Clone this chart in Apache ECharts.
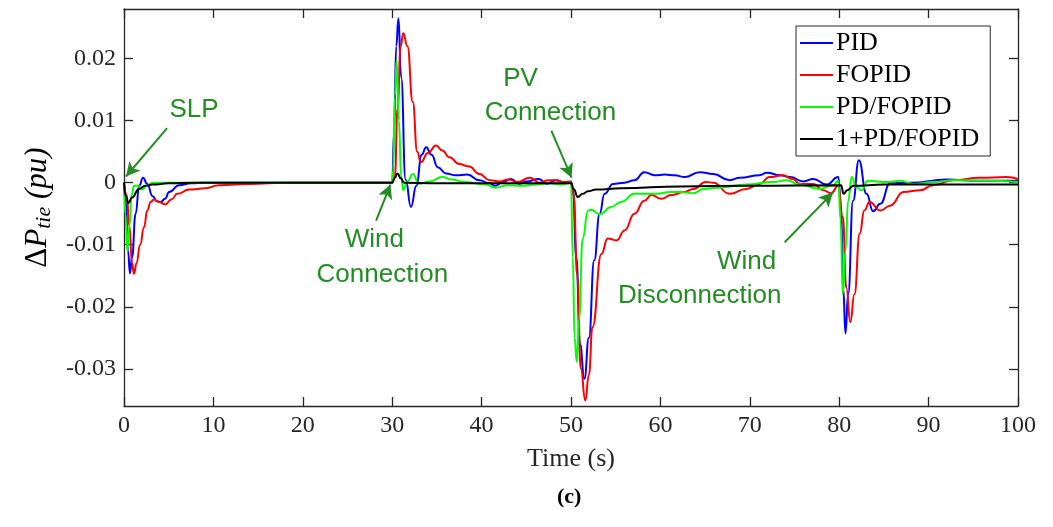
<!DOCTYPE html>
<html>
<head>
<meta charset="utf-8">
<script src="https://cdn.jsdelivr.net/npm/echarts@6/dist/echarts.min.js"></script>
<style>html,body{margin:0;padding:0;background:#fff}#chart{width:1053px;height:527px}</style>
</head>
<body>
<div id="chart"></div>
<script>
// series names (legend order)
var names = ['PID', 'FOPID', 'PD/FOPID', '1+PD/FOPID'];
var colors = ['#0000ff', '#ff0000', '#00ff00', '#000000'];

// PID
var pidT = [0,0.2,0.45,0.67,0.9,1.3,1.7,2.13,2.6,3.2,3.7,4.1,4.6,5.04,6.16,7.5,9,30,30.2,30.45,30.7,31.0,31.5,32.1,32.7,33.3,33.8,34.4,35.1,36.0,37.1,38.4,39.75,40.9,41.5,42.4,43.3,44.2,45.0,46.4,47.3,48.3,49.2,50.0,50.2,50.6,51.0,51.5,52.0,52.6,53.2,53.75,54.7,56,57.1,58.2,59.35,60.5,61.6,62.7,64.4,65.9,67.75,68.9,71.1,71.9,73.4,74.5,76,77.1,78.6,79.9,80.2,80.45,80.7,81.0,81.55,82.2,83.05,83.8,84.6,85.7,88,92,95.7,100];
var pidV = [0,-0.003,-0.011,-0.0146,-0.012,-0.005,-0.0005,0.0008,-0.0002,-0.0022,-0.003,-0.0031,-0.0026,-0.0015,-0.0004,-0.0001,0,0,0.008,0.022,0.0265,0.017,0.0005,-0.0039,-0.0005,0.0045,0.0057,0.0045,0.0025,0.0015,0.0012,0.0013,0.0004,-0.0001,-0.0005,0.0001,0.0006,-0.0002,0.0002,0.0006,-0.0002,0.0004,0.0001,0.0002,-0.001,-0.012,-0.026,-0.0316,-0.025,-0.0125,-0.005,-0.0018,-0.0002,0,0.0004,0.0017,0.0012,0.0013,0.0012,0.0009,0.0017,0.0014,0.0004,0.0008,0.0012,0.0016,0.0012,0.0009,0.0002,0.0006,-0.0003,0.0009,-0.004,-0.017,-0.0243,-0.018,-0.0029,0.0036,-0.0018,-0.0046,-0.0034,-0.0001,0,0.0005,0.0003,0.0003];

// FOPID
var fopidT = [0,0.3,0.6,0.9,1.12,1.4,1.8,2.24,2.6,2.99,3.36,3.9,4.6,5.3,5.97,7.28,9.15,10.6,14,18,30,30.3,30.6,30.95,31.24,31.7,32.3,32.8,33.2,34.0,34.9,35.6,36.4,37.5,38.6,39.75,40.9,42.0,43.0,44.0,45.4,46.5,47.5,48.3,49.2,50.0,50.3,50.7,51.1,51.6,52.0,52.4,53.4,54.1,55.1,56,57.1,58.2,59,60.1,61.2,62.7,63.7,65.1,65.9,67.75,69.6,71.1,72.2,73.7,74.8,75.6,77.1,78.2,79.1,79.9,80.4,80.8,81.25,81.7,82.3,82.8,83.4,84.6,85.7,87.2,89.1,90.5,92.8,95.7,98.7,100];
var fopidV = [0,-0.002,-0.007,-0.013,-0.0147,-0.013,-0.01,-0.0072,-0.0045,-0.0031,-0.0027,-0.0031,-0.0035,-0.0027,-0.0018,-0.0011,-0.0009,-0.0004,-0.0002,0,0,0.001,0.012,0.022,0.0241,0.022,0.013,0.005,0.0033,0.0048,0.006,0.0052,0.0041,0.003,0.0026,0.0014,0.0004,0.0002,0.0005,0.0001,0.0008,0,0.0004,0.0004,0.0001,0.0001,-0.002,-0.015,-0.03,-0.0351,-0.031,-0.0233,-0.0115,-0.009,-0.0093,-0.0077,-0.005,-0.0029,-0.002,-0.0026,-0.002,-0.0015,-0.001,0.0001,0,-0.0018,-0.001,-0.0002,0.0009,0.0012,0.0006,-0.0002,-0.0002,-0.0012,-0.0017,-0.0005,-0.0055,-0.017,-0.0225,-0.018,-0.0082,-0.0045,-0.0031,-0.0045,-0.0037,-0.0015,-0.0012,-0.0004,0.0004,0.0008,0.0009,0.0006];

// PD/FOPID
var pdT = [0,0.15,0.37,0.6,0.85,1.12,1.5,2.05,2.6,3.2,30,30.1,30.3,30.5,30.75,31.0,31.24,31.7,32.3,33.0,34.2,35.6,36.7,38,40.5,41.5,43,44.5,46,47.5,49,50.0,50.2,50.4,50.65,50.9,51.3,51.9,52.3,53.2,54.5,55.6,57.1,59.35,61.2,62.2,63.7,64.8,66.5,69.6,72.6,74.1,75.6,77.8,79.3,79.9,80.15,80.4,80.7,81.0,81.4,81.9,82.5,83.2,85.3,86.8,88.3,90.6,92.8,96.5,100];
var pdV = [0,-0.005,-0.011,-0.007,-0.002,-0.0005,-0.0005,-0.0011,-0.0004,0,0,0.002,0.014,0.0197,0.01,0.001,-0.0012,0.0002,0.0014,-0.0002,0.0002,0.0009,0.0005,0.0001,-0.0003,-0.0008,-0.0004,-0.0005,-0.0003,-0.0001,-0.0003,0,-0.012,-0.025,-0.0289,-0.022,-0.009,-0.0045,-0.0044,-0.0051,-0.0039,-0.0031,-0.0018,-0.0018,-0.0015,-0.0015,-0.0017,-0.001,-0.0008,-0.0003,0.0001,0.0004,-0.0003,-0.001,-0.0004,0.0003,-0.006,-0.0179,-0.011,-0.0029,0.0009,-0.0007,-0.0012,0.0003,0.0001,0.0003,-0.0002,0.0001,0.0004,0.0003,0.0001];

// 1+PD/FOPID
var onePdT = [0,0.2,0.48,0.9,1.68,2.4,3.2,5,8,30,30.3,30.6,30.95,31.35,35,50.0,50.3,50.76,51.3,51.9,52.8,55.6,62.3,70,80.2,80.5,80.9,81.6,85,100];
var onePdV = [0,-0.0022,-0.0033,-0.0024,-0.001,-0.0005,-0.0003,-0.0001,0,0,0.0008,0.0015,0.0007,0,-0.0001,-0.0001,-0.001,-0.0023,-0.0018,-0.0014,-0.0011,-0.0009,-0.0006,-0.0005,-0.0004,-0.0018,-0.0012,-0.0005,-0.0003,-0.0003];

// axis ticks
var yTicks = [-0.03, -0.02, -0.01, 0, 0.01, 0.02];

// annotations: text [x, y, label], arrows [x1, y1, x2, y2]
var noteTexts = [[7.84,0.0118,'SLP'],[28.0,-0.0092,'Wind'],[28.9,-0.0148,'Connection'],[44.35,0.0168,'PV'],[47.7,0.0112,'Connection'],[69.65,-0.0127,'Wind'],[64.4,-0.0183,'Disconnection']];
var noteArrows = [[4.82,0.0088,0.22,0.001],[28.2,-0.0061,29.8,-0.0003],[47.8,0.0084,50.06,0.0008],[73.9,-0.0096,79.3,-0.0016]];

function zip(t, v) {
    var out = [];
    for (var i = 0; i < t.length; i++) out.push([t[i], v[i]]);
    return out;
}

var allData = [zip(pidT, pidV), zip(fopidT, fopidV), zip(pdT, pdV), zip(onePdT, onePdV)];
var axisColor = '#262626';
var serif = 'Liberation Serif';
var green = '#238c23';

var series = names.map(function (n, i) {
    return {
        name: n,
        type: 'line',
        data: allData[i],
        symbol: 'none',
        smooth: 0.5,
        smoothMonotone: 'x',
        lineStyle: {color: colors[i], width: 2},
        itemStyle: {color: colors[i]},
        z: 2 + i
    };
});

// annotation series (not in legend)
series.push({
    name: 'notes',
    type: 'line',
    data: [],
    z: 10,
    markLine: {
        silent: true,
        symbol: ['none', 'arrow'],
        symbolSize: [11, 14],
        label: {show: false},
        lineStyle: {color: green, width: 2, type: 'solid'},
        data: noteArrows.map(function (a) {
            return [{coord: [a[0], a[1]]}, {coord: [a[2], a[3]]}];
        })
    },
    markPoint: {
        silent: true,
        symbol: 'rect',
        symbolSize: 1,
        itemStyle: {color: 'rgba(0,0,0,0)'},
        label: {
            show: true, position: 'inside', formatter: '{b}',
            color: green, fontFamily: 'Liberation Sans', fontSize: 26
        },
        data: noteTexts.map(function (t) {
            return {name: t[2], coord: [t[0], t[1]]};
        })
    }
});

var tickStyle = {show: true, inside: true, length: 9, lineStyle: {color: axisColor, width: 1.3}};
var lineStyleAx = {show: true, onZero: false, lineStyle: {color: axisColor, width: 1.3}};

var option = {
    animation: false,
    backgroundColor: '#fff',
    title: {
        text: '(c)', left: 552, top: 481,
        textStyle: {fontFamily: serif, fontWeight: 'bold', fontSize: 22, color: '#000'}
    },
    grid: {left: 124, top: 9, right: 35, bottom: 121},
    legend: {
        data: names,
        orient: 'vertical',
        left: 796, top: 26,
        backgroundColor: '#fff',
        borderColor: axisColor, borderWidth: 1,
        padding: [4, 11, 4, 4],
        icon: 'rect',
        itemWidth: 33, itemHeight: 2, itemGap: 6,
        textStyle: {fontFamily: serif, fontSize: 26, color: '#000', lineHeight: 26, padding: [0, 0, 0, -2]}
    },
    xAxis: [{
        type: 'value', min: 0, max: 100, interval: 10,
        name: 'Time (s)', nameLocation: 'middle', nameGap: 40,
        nameTextStyle: {fontFamily: serif, fontSize: 26, color: axisColor},
        axisLine: lineStyleAx, axisTick: tickStyle,
        axisLabel: {fontFamily: serif, fontSize: 24, color: axisColor, margin: 8},
        splitLine: {show: false}
    }, {
        type: 'value', min: 0, max: 100, interval: 10, position: 'top',
        axisLine: lineStyleAx, axisTick: tickStyle,
        axisLabel: {show: false}, splitLine: {show: false}
    }],
    yAxis: [{
        type: 'value', min: -0.036, max: 0.028,
        name: '{d|Δ}{i|P}{s|tie}{i| (pu)}', nameLocation: 'middle', nameGap: 62,
        nameTextStyle: {
            rich: {
                d: {fontFamily: serif, fontSize: 31, color: '#000'},
                i: {fontFamily: serif, fontSize: 31, fontStyle: 'italic', color: '#000'},
                s: {fontFamily: serif, fontSize: 22, fontStyle: 'italic', color: '#000', padding: [13, 0, 0, 0]}
            }
        },
        axisLine: lineStyleAx,
        axisTick: Object.assign({customValues: yTicks}, tickStyle),
        axisLabel: {
            customValues: yTicks,
            fontFamily: serif, fontSize: 24, color: axisColor, margin: 8,
            formatter: function (v) { return Math.abs(v) < 1e-9 ? '0' : v.toFixed(2); }
        },
        splitLine: {show: false}
    }, {
        type: 'value', min: -0.036, max: 0.028, position: 'right',
        axisLine: lineStyleAx,
        axisTick: Object.assign({customValues: yTicks}, tickStyle),
        axisLabel: {show: false}, splitLine: {show: false}
    }],
    series: series
};

var chart = echarts.init(document.getElementById('chart'));
chart.setOption(option);
</script>
</body>
</html>
